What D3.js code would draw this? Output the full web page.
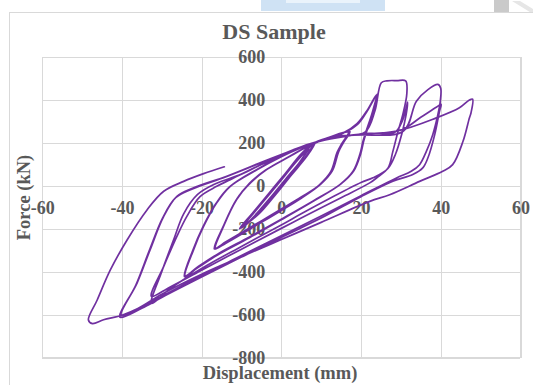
<!DOCTYPE html>
<html>
<head>
<meta charset="utf-8">
<script src="https://cdn.jsdelivr.net/npm/d3@7"></script>
<style>
  html, body { margin: 0; padding: 0; background: #fff; }
  svg { display: block; }
</style>
</head>
<body>
<svg id="chart" width="533" height="385"></svg>
<script>
// Axis ticks
const xTicks = [-60, -40, -20, 0, 20, 40, 60];
const yTicks = [-800, -600, -400, -200, 0, 200, 400, 600];

// Displacement (mm), force (kN) pairs, in test order
const elastic = [
  [0, 0], [4, 95], [7, 175],
  [5, 120], [1, 30], [-3, -60], [-7, -145], [-9.5, -190],
  [-7, -125], [-3, -38], [1, 52], [5, 138], [8, 195],
  [6, 132], [2, 42], [-2, -48], [-6, -133], [-10, -196],
  [-7, -128], [-3, -40], [1, 50], [5, 140], [8.5, 202],
  [6.5, 140], [2.5, 50], [-1.5, -42], [-5.5, -128], [-10.5, -200]
];

const cycles17 = [
  [-7, -122], [-3, -32], [1, 58], [5, 150], [8, 198], [12, 226], [17, 252],
  [15.4, 200], [14.2, 158], [12.6, 68], [9.7, 6],
  [5, -52], [0, -108], [-5, -163], [-10, -218], [-14, -262], [-16.5, -289],
  [-14.5, -189], [-11.2, -64], [-7.8, 14], [-3.7, 76], [2.2, 138], [7.6, 193], [12, 224], [16.8, 250],
  [15.2, 198], [14, 156], [12.4, 66], [9.5, 4],
  [5, -55], [0, -112], [-5, -168], [-10, -222], [-14, -266], [-16.6, -292],
  [-14.6, -192], [-11.4, -68], [-8, 12], [-3.9, 74], [2, 137], [7.6, 194], [12, 225], [17.2, 253],
  [15.6, 202], [14.4, 160], [12.8, 70], [9.9, 8],
  [5, -58], [0, -115], [-5, -170], [-10, -225], [-14, -268], [-16.8, -294],
  [-14.6, -190], [-11.2, -62], [-7.6, 16], [-3.5, 78], [2.4, 140], [7.8, 196], [12, 224], [15.5, 246]
];

const cycles24 = [
  [19, 290], [21.4, 348], [23.9, 425],
  [22.8, 340], [21.2, 250], [20.5, 208], [19.7, 146], [18, 68], [14.7, 6],
  [8, -70], [0, -155], [-8, -238], [-16, -318], [-21, -378], [-24.1, -419],
  [-22, -297], [-19.5, -189], [-16.2, -79], [-12.8, -2], [-6, 78], [0, 138], [5, 180], [8.2, 200], [12, 226], [16, 250],
  [19.4, 292], [21.6, 350], [24.1, 428],
  [23, 342], [21.4, 252], [20.7, 210], [19.9, 148], [18.2, 70], [14.9, 8],
  [8, -72], [0, -158], [-8, -242], [-16, -322], [-21, -382], [-24.3, -423],
  [-22.2, -300], [-19.7, -192], [-16.4, -82], [-13, -5], [-6, 76], [0, 136], [5, 178], [8.2, 200], [14, 232], [21, 250]
];

const cycles32 = [
  [23.5, 350], [25.1, 481], [26.5, 490], [29, 491], [31.2, 490],
  [31.5, 430], [30.5, 333], [29.3, 255], [28, 161], [26.8, 84], [23.9, 37], [22.2, 14],
  [15, -55], [5, -150], [0, -198], [-10, -295], [-20, -393], [-28, -472], [-32.6, -515],
  [-29.5, -375], [-26.2, -235], [-23.7, -142], [-20.4, -50], [-16.2, -2], [-12.8, 29], [-5, 100], [2, 160], [8.3, 202], [15, 230], [22, 245], [28.5, 250],
  [30.3, 300], [31.3, 360], [31.7, 391],
  [31.3, 330], [30.2, 240], [28.7, 150], [26.7, 80], [23, 38], [20, 16],
  [12, -60], [5, -130], [0, -182], [-10, -282], [-20, -385], [-28, -480], [-32.6, -548],
  [-30, -400], [-27, -250], [-24.5, -130], [-21, -40], [-16.5, 10], [-10, 55], [-3, 120], [3, 168], [8.4, 203], [18, 236], [30.6, 255]
];

const cycles40 = [
  [33.9, 395], [36.8, 449], [39.3, 473], [40, 455],
  [39.9, 395], [39.3, 333], [38, 239], [36.4, 161], [34.7, 99], [32.6, 68], [28.9, 37],
  [20, -46], [10, -140], [0, -232], [-10, -325], [-20, -418], [-30, -515], [-35, -565], [-40.2, -604],
  [-36.2, -453], [-32.9, -297], [-29.5, -142], [-26.2, -49], [-22, -9], [-13.7, 45], [-5, 110], [2, 160], [8.5, 203], [18, 236], [30.1, 262],
  [35, 320], [39, 368], [40.1, 380],
  [39.7, 348], [38.5, 239], [36.8, 131], [35.5, 84], [33, 53], [28, 22],
  [20, -50], [10, -150], [0, -240], [-10, -332], [-20, -425], [-30, -520], [-35, -570], [-40.5, -612],
  [-36.5, -462], [-33.2, -305], [-29.8, -150], [-26.5, -55], [-22.3, -14], [-14, 42], [-5, 108], [2, 158], [8.5, 202], [18, 236], [28.9, 255]
];

const cycles48 = [
  [38.9, 317], [44.7, 364], [47.2, 400], [48, 404],
  [47.6, 340], [47.2, 317], [45.6, 208], [43, 99], [40.5, 68], [34.7, 21], [27.2, -41], [22.2, -72],
  [10, -170], [0, -250], [-10, -330], [-20, -412], [-30, -505], [-36, -572], [-40, -603], [-44.6, -624], [-47.4, -642], [-48.4, -625],
  [-46.2, -532], [-42.9, -392], [-38.7, -252], [-33.7, -112], [-29.5, -25], [-24.5, 21], [-19.5, 57], [-14.3, 89]
];

const history = [].concat(elastic, cycles17, cycles24, cycles32, cycles40, cycles48);

const svg = d3.select("#chart");
const x = d3.scaleLinear().domain([-60, 60]).range([42.2, 520.4]);
const y = d3.scaleLinear().domain([-800, 600]).range([357.5, 57.2]);

const grey = "#595959";
const serif = "'Liberation Serif', 'Times New Roman', serif";
const plain = d => String(d); // hyphen-minus, as in the workbook

// Window chrome around the chart
svg.append("rect").attr("x", 261).attr("y", 0).attr("width", 124).attr("height", 11).attr("fill", "#cfe2f4");
svg.append("rect").attr("x", 286).attr("y", 0).attr("width", 74).attr("height", 3).attr("fill", "#eaf3fb");
svg.append("rect").attr("x", 494).attr("y", 0).attr("width", 15).attr("height", 12.5).attr("fill", "#cacaca");
svg.append("path").attr("d", "M512,1 L533,14 L533,9 L520,1 Z").attr("fill", "#e6e6e6");

// Chart frame
svg.append("rect")
  .attr("x", 9.5).attr("y", 12.5).attr("width", 540).attr("height", 400)
  .attr("fill", "#fff").attr("stroke", "#d9d9d9").attr("stroke-width", 1);

// Gridlines
const gridX = svg.append("g")
  .attr("transform", `translate(0,${y(-800)})`)
  .call(d3.axisBottom(x).tickValues(xTicks).tickSize(-(y(-800) - y(600))).tickFormat(""));
const gridY = svg.append("g")
  .attr("transform", `translate(${x(-60)},0)`)
  .call(d3.axisLeft(y).tickValues(yTicks).tickSize(-(x(60) - x(-60))).tickFormat(""));
[gridX, gridY].forEach(g => {
  g.select(".domain").remove();
  g.selectAll(".tick line").attr("stroke", "#d9d9d9").attr("stroke-width", 1.2).attr("shape-rendering", "crispEdges");
});

// Tick labels placed at the axis crossing
const xAxis = svg.append("g")
  .attr("transform", `translate(0,${y(0)})`)
  .call(d3.axisBottom(x).tickValues(xTicks).tickSize(0).tickPadding(15.5).tickFormat(plain));
const yAxis = svg.append("g")
  .attr("transform", `translate(${x(0)},0)`)
  .call(d3.axisLeft(y).tickValues(yTicks).tickSize(0).tickPadding(16).tickFormat(plain));
[xAxis, yAxis].forEach(g => {
  g.select(".domain").remove();
  g.selectAll("text")
    .attr("fill", grey)
    .style("font-family", serif)
    .style("font-size", "18px")
    .style("font-weight", "bold");
});

// Titles
svg.append("text")
  .attr("x", 274).attr("y", 38.5)
  .attr("text-anchor", "middle")
  .attr("fill", grey)
  .style("font-family", serif).style("font-size", "22px").style("font-weight", "bold")
  .text("DS Sample");

svg.append("text")
  .attr("x", 280).attr("y", 378.5)
  .attr("text-anchor", "middle")
  .attr("fill", grey)
  .style("font-family", serif).style("font-size", "18.5px").style("font-weight", "bold")
  .text("Displacement (mm)");

svg.append("text")
  .attr("transform", "translate(30,197.5) rotate(-90)")
  .attr("text-anchor", "middle")
  .attr("fill", grey)
  .style("font-family", serif).style("font-size", "18.5px").style("font-weight", "bold")
  .text("Force (kN)");

// Hysteresis curve
const line = d3.line()
  .x(d => x(d[0]))
  .y(d => y(d[1]))
  .curve(d3.curveCatmullRom.alpha(0.5));

svg.append("path")
  .datum(history)
  .attr("d", line)
  .attr("fill", "none")
  .attr("stroke", "#7030a0")
  .attr("stroke-width", 1.7)
  .attr("stroke-linejoin", "round")
  .attr("stroke-linecap", "round");
</script>
</body>
</html>
